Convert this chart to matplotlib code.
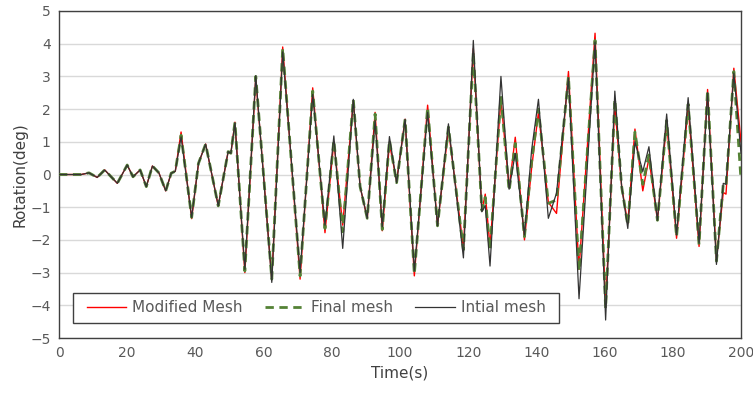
import matplotlib
matplotlib.use("Agg")
import matplotlib.pyplot as plt
from matplotlib.patches import Rectangle

# values (extrema and shoulders)
time_s = [0, 6.5, 8.8, 11.2, 13.4, 17.1, 20.0, 21.7, 23.8, 25.6, 27.4, 29.3, 31.3, 32.9, 34.1,
          35.8, 38.9, 40.9, 43.0, 46.7, 49.6, 50.4, 51.6, 54.5, 57.7, 62.4, 65.6, 67.7, 70.7,
          74.4, 78.0, 80.6, 83.2, 86.3, 88.3, 90.4, 92.7, 94.8, 96.9, 99.0, 101.5, 104.2,
          108.1, 111.0, 114.2, 118.6, 121.5, 124.0, 125.0, 126.4, 129.6, 132.0, 133.8, 136.5,
          138.6, 140.6, 143.5, 145.9, 149.4, 152.5, 157.2, 160.3, 163.0, 165.0, 166.8, 168.9,
          171.2, 173.0, 175.5, 178.2, 181.1, 184.5, 187.7, 190.2, 192.8, 194.8, 195.6, 197.9, 200]

modified = [0, 0, 0.05, -0.09, 0.14, -0.27, 0.29, -0.07, 0.14, -0.37, 0.26, 0.05, -0.5, 0.04, 0.1,
            1.3, -1.35, 0.34, 0.93, -0.96, 0.7, 0.65, 1.6, -3.0, 2.95, -3.2, 3.9, 1.0, -3.2,
            2.65, -1.78, 1.0, -1.55, 2.25, -0.37, -1.34, 1.9, -1.72, 0.95, -0.2, 1.69, -3.1,
            2.12, -1.57, 1.4, -2.25, 3.85, -1.1, -0.6, -2.2, 2.3, -0.4, 1.14, -2.0,
            0.2, 1.9, -0.85, -1.19, 3.15, -2.9, 4.32, -4.0, 2.1, -0.37, -1.5, 1.39,
            -0.5, 0.5, -1.4, 1.6, -1.95, 2.1, -2.2, 2.6, -2.6, -0.55, -0.6, 3.25, 1.0]

final = [0, 0, 0.05, -0.09, 0.14, -0.27, 0.29, -0.07, 0.14, -0.37, 0.26, 0.05, -0.5, 0.04, 0.1,
         1.2, -1.31, 0.34, 0.93, -0.96, 0.7, 0.65, 1.6, -2.95, 3.0, -3.2, 3.86, 1.0, -3.1,
         2.55, -1.65, 1.05, -1.75, 2.3, -0.37, -1.34, 1.85, -1.68, 1.05, -0.25, 1.69, -3.05,
         2.05, -1.57, 1.45, -2.3, 3.75, -1.1, -0.7, -2.3, 2.4, -0.5, 0.95, -1.9,
         0.4, 2.0, -0.88, -0.78, 3.0, -2.95, 4.1, -4.1, 2.3, -0.37, -1.55, 1.3,
         -0.3, 0.6, -1.4, 1.65, -1.9, 2.15, -2.15, 2.58, -2.65, -0.3, -0.35, 3.15, -0.17]

initial = [0, 0, 0.05, -0.09, 0.14, -0.27, 0.29, -0.07, 0.14, -0.37, 0.26, 0.05, -0.5, 0.04, 0.1,
           1.15, -1.31, 0.34, 0.93, -0.96, 0.7, 0.65, 1.58, -2.9, 3.02, -3.3, 3.75, 1.0, -3.0,
           2.45, -1.55, 1.18, -2.26, 2.3, -0.37, -1.34, 1.65, -1.6, 1.16, -0.25, 1.69, -2.95,
           1.9, -1.57, 1.55, -2.55, 4.1, -1.14, -0.95, -2.8, 3.0, -0.45, 0.65, -1.85,
           0.75, 2.3, -1.34, -0.57, 2.95, -3.8, 4.05, -4.45, 2.55, -0.37, -1.65, 1.0,
           0.09, 0.85, -1.4, 1.85, -1.85, 2.35, -2.1, 2.5, -2.75, -0.27, -0.3, 3.1, 0.65]

y_ticks = list(range(-5, 6))
x_ticks = list(range(0, 201, 20))

fig = plt.figure(figsize=(7.53, 3.98), dpi=100)
ax = fig.add_axes([59 / 753, (398 - 338) / 398, 682 / 753, 327 / 398])

ax.plot(time_s, modified, color="#ff0000", lw=1.0, label="Modified Mesh", zorder=3)
ax.plot(time_s, final, color="#548235", lw=2.0, ls=(0, (3, 2)), label="Final mesh", zorder=4)
ax.plot(time_s, initial, color="#333333", lw=0.9, label="Intial mesh", zorder=5)

ax.set_xlim(0, 200)
ax.set_ylim(-5, 5)
ax.set_xticks(x_ticks)
ax.set_yticks(y_ticks)
ax.tick_params(length=0, labelsize=10, labelcolor="#595959", pad=6)
ax.yaxis.grid(True, color="#d9d9d9", lw=1.0)
ax.set_axisbelow(True)
for sp in ax.spines.values():
    sp.set_color("#404040")
    sp.set_linewidth(1.0)

ax.set_xlabel("Time(s)", fontsize=11, color="#404040", labelpad=4)
ax.set_ylabel("Rotation(deg)", fontsize=11, color="#404040", labelpad=2)

# legend box drawn separately so the entries can sit with their own padding
box = (0.0205, 0.046, 0.713, 0.092)
ax.add_patch(Rectangle(box[:2], box[2], box[3], transform=ax.transAxes, fill=True,
                       facecolor="white", edgecolor="#404040", lw=1.0, zorder=6))
leg = ax.legend(loc="center", bbox_to_anchor=(box[0] + box[2] / 2, box[1] + box[3] / 2),
                ncol=3, fontsize=11, handlelength=2.6, handletextpad=0.4, columnspacing=1.45,
                frameon=False, borderpad=0, borderaxespad=0)
leg.set_zorder(7)
for t in leg.get_texts():
    t.set_color("#595959")

fig.savefig("out.png", dpi=100)
